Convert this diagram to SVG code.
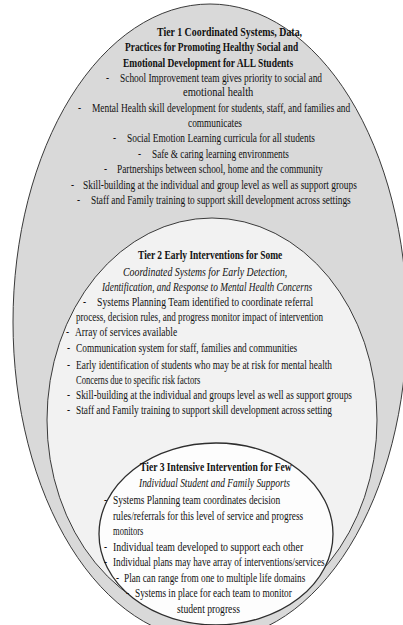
<svg xmlns="http://www.w3.org/2000/svg" width="403" height="625" viewBox="0 0 403 625">
<style>
.e{stroke:#3a3a3a;stroke-width:1}
.t{font-family:"Liberation Serif","Times New Roman",serif;font-size:12.5px;fill:#111111}
.b{font-weight:bold}
.i{font-style:italic}
</style>
<rect width="403" height="625" fill="#ffffff"/>
<g id="tier1">
<ellipse class="e" cx="210" cy="322" rx="197" ry="318" fill="#d9d9d9"/>
<text class="t b" transform="translate(157,36) scale(0.74,1)" textLength="196" lengthAdjust="spacingAndGlyphs">Tier 1 Coordinated Systems, Data,</text>
<text class="t b" transform="translate(125,51.3) scale(0.74,1)" textLength="234" lengthAdjust="spacingAndGlyphs">Practices for Promoting Healthy Social and</text>
<text class="t b" transform="translate(123,66.6) scale(0.74,1)" textLength="230" lengthAdjust="spacingAndGlyphs">Emotional Development for ALL Students</text>
<text class="t" transform="translate(106,81.9) scale(0.74,1)">-</text>
<text class="t" transform="translate(120,81.9) scale(0.74,1)" textLength="273" lengthAdjust="spacingAndGlyphs">School Improvement team gives priority to social and</text>
<text class="t" transform="translate(183,96) scale(0.74,1)" textLength="95" lengthAdjust="spacingAndGlyphs">emotional health</text>
<text class="t" transform="translate(78,112) scale(0.74,1)">-</text>
<text class="t" transform="translate(92,112) scale(0.74,1)" textLength="349" lengthAdjust="spacingAndGlyphs">Mental Health skill development for students, staff, and families and</text>
<text class="t" transform="translate(188,127.3) scale(0.74,1)" textLength="73" lengthAdjust="spacingAndGlyphs">communicates</text>
<text class="t" transform="translate(113,142) scale(0.74,1)">-</text>
<text class="t" transform="translate(127,142) scale(0.74,1)" textLength="254" lengthAdjust="spacingAndGlyphs">Social Emotion Learning curricula for all students</text>
<text class="t" transform="translate(138,157.5) scale(0.74,1)">-</text>
<text class="t" transform="translate(152,157.5) scale(0.74,1)" textLength="185" lengthAdjust="spacingAndGlyphs">Safe &amp; caring learning environments</text>
<text class="t" transform="translate(104,173) scale(0.74,1)">-</text>
<text class="t" transform="translate(117,173) scale(0.74,1)" textLength="278" lengthAdjust="spacingAndGlyphs">Partnerships between school, home and the community</text>
<text class="t" transform="translate(71,189) scale(0.74,1)">-</text>
<text class="t" transform="translate(83,189) scale(0.74,1)" textLength="370" lengthAdjust="spacingAndGlyphs">Skill-building at the individual and group level as well as support groups</text>
<text class="t" transform="translate(77,204.3) scale(0.74,1)">-</text>
<text class="t" transform="translate(91,204.3) scale(0.74,1)" textLength="351" lengthAdjust="spacingAndGlyphs">Staff and Family training to support skill development across settings</text>
</g>
<g id="tier2">
<ellipse class="e" cx="212" cy="420" rx="165" ry="202" fill="#f2f2f2"/>
<text class="t b" transform="translate(138,259) scale(0.74,1)" textLength="195" lengthAdjust="spacingAndGlyphs">Tier 2 Early Interventions for Some</text>
<text class="t i" transform="translate(123,276) scale(0.74,1)" textLength="222" lengthAdjust="spacingAndGlyphs">Coordinated Systems for Early Detection,</text>
<text class="t i" transform="translate(102,291) scale(0.74,1)" textLength="284" lengthAdjust="spacingAndGlyphs">Identification, and Response to Mental Health Concerns</text>
<text class="t" transform="translate(83,306) scale(0.74,1)">-</text>
<text class="t" transform="translate(97,306) scale(0.74,1)" textLength="292" lengthAdjust="spacingAndGlyphs">Systems Planning Team identified to coordinate referral</text>
<text class="t" transform="translate(76,321) scale(0.74,1)" textLength="334" lengthAdjust="spacingAndGlyphs">process, decision rules, and progress monitor impact of intervention</text>
<text class="t" transform="translate(66,336) scale(0.74,1)">-</text>
<text class="t" transform="translate(75,336) scale(0.74,1)" textLength="138" lengthAdjust="spacingAndGlyphs">Array of services available</text>
<text class="t" transform="translate(67,352) scale(0.74,1)">-</text>
<text class="t" transform="translate(76,352) scale(0.74,1)" textLength="299" lengthAdjust="spacingAndGlyphs">Communication system for staff, families and communities</text>
<text class="t" transform="translate(67,369) scale(0.74,1)">-</text>
<text class="t" transform="translate(76,369) scale(0.74,1)" textLength="346" lengthAdjust="spacingAndGlyphs">Early identification of students who may be at risk for mental health</text>
<text class="t" transform="translate(76,384) scale(0.74,1)" textLength="168" lengthAdjust="spacingAndGlyphs">Concerns due to specific risk factors</text>
<text class="t" transform="translate(67,399) scale(0.74,1)">-</text>
<text class="t" transform="translate(76,399) scale(0.74,1)" textLength="373" lengthAdjust="spacingAndGlyphs">Skill-building at the individual and groups level as well as support groups</text>
<text class="t" transform="translate(67,414) scale(0.74,1)">-</text>
<text class="t" transform="translate(76,414) scale(0.74,1)" textLength="346" lengthAdjust="spacingAndGlyphs">Staff and Family training to support skill development across setting</text>
</g>
<g id="tier3">
<ellipse cx="216" cy="534" rx="117" ry="91" fill="#fdfdfd" stroke="#2e2e2e" stroke-width="1.3"/>
<text class="t b" transform="translate(140,471) scale(0.74,1)" textLength="205" lengthAdjust="spacingAndGlyphs">Tier 3 Intensive Intervention for Few</text>
<text class="t i" transform="translate(139,487) scale(0.74,1)" textLength="204" lengthAdjust="spacingAndGlyphs">Individual Student and Family Supports</text>
<text class="t" transform="translate(104,504) scale(0.74,1)">-</text>
<text class="t" transform="translate(113,504) scale(0.74,1)" textLength="226" lengthAdjust="spacingAndGlyphs">Systems Planning team coordinates decision</text>
<text class="t" transform="translate(113,520) scale(0.74,1)" textLength="257" lengthAdjust="spacingAndGlyphs">rules/referrals for this level of service and progress</text>
<text class="t" transform="translate(113,535) scale(0.74,1)" textLength="41" lengthAdjust="spacingAndGlyphs">monitors</text>
<text class="t" transform="translate(104,551) scale(0.74,1)">-</text>
<text class="t" transform="translate(113,551) scale(0.74,1)" textLength="257" lengthAdjust="spacingAndGlyphs">Individual team developed to support each other</text>
<text class="t" transform="translate(104,566) scale(0.74,1)">-</text>
<text class="t" transform="translate(113,566) scale(0.74,1)" textLength="286" lengthAdjust="spacingAndGlyphs">Individual plans may have array of interventions/services</text>
<text class="t" transform="translate(116,582) scale(0.74,1)">-</text>
<text class="t" transform="translate(124,582) scale(0.74,1)" textLength="245" lengthAdjust="spacingAndGlyphs">Plan can range from one to multiple life domains</text>
<text class="t" transform="translate(126,597) scale(0.74,1)">-</text>
<text class="t" transform="translate(135,597) scale(0.74,1)" textLength="212" lengthAdjust="spacingAndGlyphs">Systems in place for each team to monitor</text>
<text class="t" transform="translate(177,613) scale(0.74,1)" textLength="85" lengthAdjust="spacingAndGlyphs">student progress</text>
</g>
<g id="connectors"/>
</svg>
